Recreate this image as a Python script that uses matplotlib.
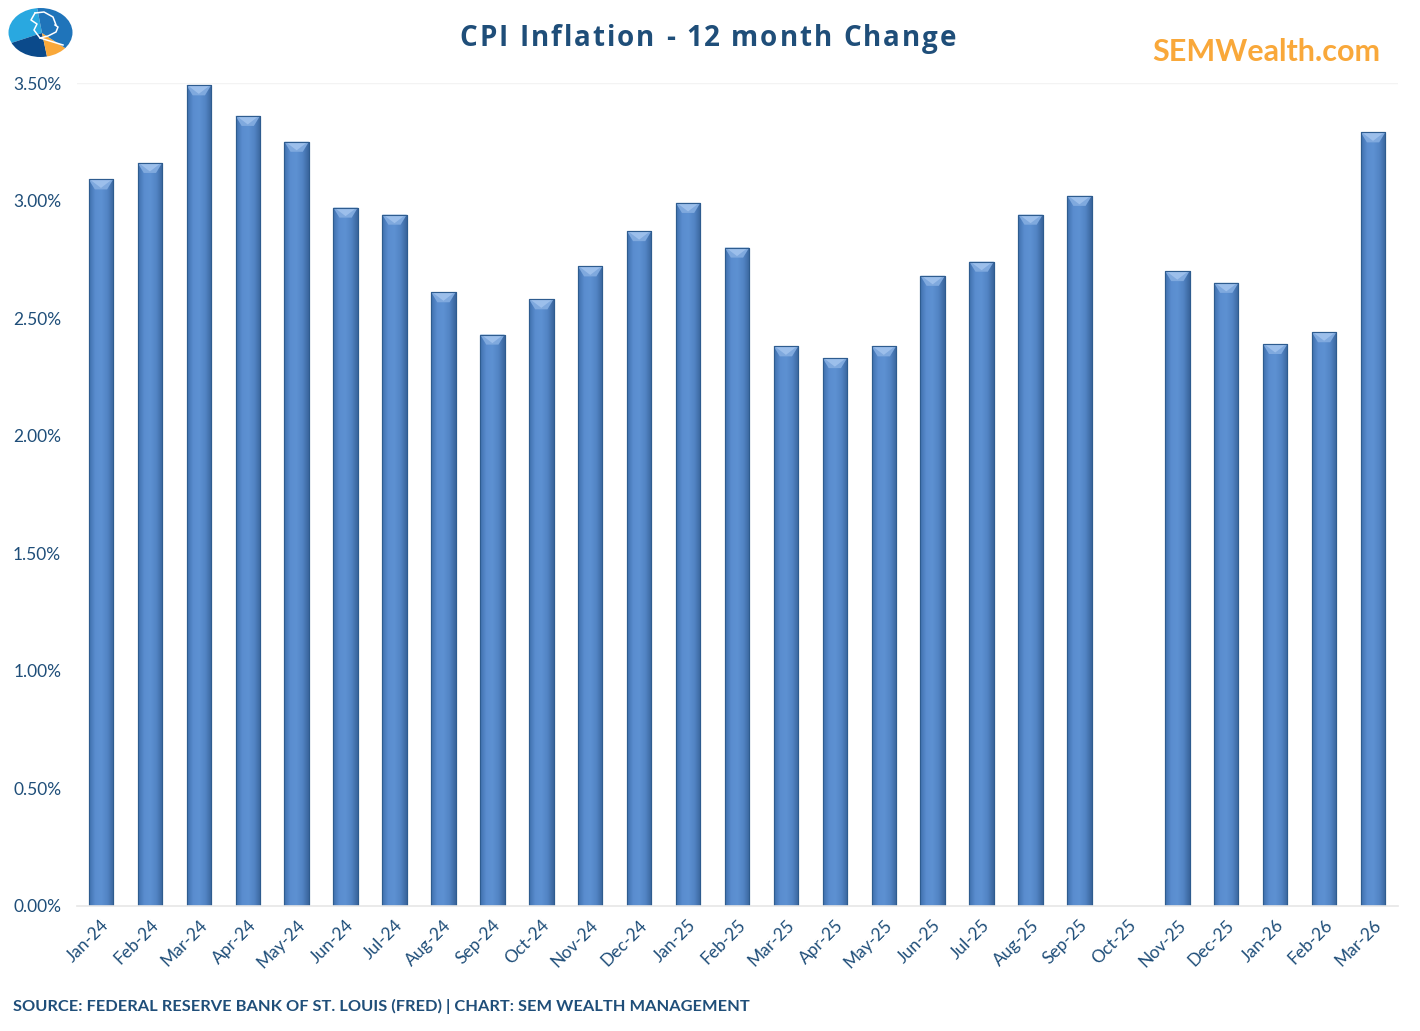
import numpy as np
import matplotlib
matplotlib.use("Agg")
import matplotlib.pyplot as plt
from matplotlib.patches import Polygon, Ellipse, Wedge
from matplotlib.colors import LinearSegmentedColormap

months = ["Jan-24", "Feb-24", "Mar-24", "Apr-24", "May-24", "Jun-24", "Jul-24", "Aug-24",
          "Sep-24", "Oct-24", "Nov-24", "Dec-24", "Jan-25", "Feb-25", "Mar-25", "Apr-25",
          "May-25", "Jun-25", "Jul-25", "Aug-25", "Sep-25", "Oct-25", "Nov-25", "Dec-25",
          "Jan-26", "Feb-26", "Mar-26"]
cpi = [3.09, 3.16, 3.49, 3.36, 3.25, 2.97, 2.94, 2.61, 2.43, 2.58, 2.72, 2.87, 2.99, 2.80,
       2.38, 2.33, 2.38, 2.68, 2.74, 2.94, 3.02, np.nan, 2.70, 2.65, 2.39, 2.44, 3.29]
yticks = [0, 0.5, 1.0, 1.5, 2.0, 2.5, 3.0, 3.5]

TXT = "#1F4E79"
FONT = ["Lato", "DejaVu Sans"]
plt.rcParams["font.family"] = FONT

fig = plt.figure(figsize=(14.2, 10.31), dpi=100)
ax = fig.add_axes([76.5 / 1420, 1 - 906 / 1031, (1397.5 - 76.5) / 1420, (906 - 83) / 1031])

x = np.arange(len(months))
vals = np.array(cpi, dtype=float)
bw = 0.5
bars = ax.bar(x, np.nan_to_num(vals), width=bw, color="#4F81BD", edgecolor="#2E5C8F",
              linewidth=0.8, zorder=2)

cmap = LinearSegmentedColormap.from_list("g", ["#3F70AD", "#5A8DCF", "#5D91D2", "#5284C4", "#3A659C"])
grad = np.linspace(0, 1, 64).reshape(1, -1)
ax.set_xlim(-0.5, len(months) - 0.5)
ax.set_ylim(0, 3.5)

fig.canvas.draw()
p0 = ax.transData.transform((0, 0))
p1 = ax.transData.transform((1, 1))
ypx = p1[1] - p0[1]
bevel = 10 / ypx
for b, v in zip(bars, vals):
    if np.isnan(v):
        b.set_visible(False)
        continue
    xl = b.get_x()
    im = ax.imshow(grad, extent=[xl, xl + bw, 0, v], aspect="auto", cmap=cmap,
                   zorder=2.1, interpolation="bilinear")
    im.set_clip_path(b)
    cap = Polygon([[xl, v], [xl + bw, v], [xl + bw * 0.75, v - bevel], [xl + bw * 0.25, v - bevel]],
                  closed=True, facecolor="#7FA9DE", edgecolor="none", zorder=2.2)
    ax.add_patch(cap)
    tri = Polygon([[xl + bw * 0.08, v - 0.003], [xl + bw * 0.92, v - 0.003], [xl + bw * 0.5, v - bevel * 0.85]],
                  closed=True, facecolor="#A2C3EE", edgecolor="none", zorder=2.3, alpha=0.85)
    ax.add_patch(tri)
    ax.add_patch(Polygon([[xl, 0], [xl, v], [xl + bw, v], [xl + bw, 0]], closed=True,
                         facecolor="none", edgecolor="#2E5C8F", linewidth=0.8, zorder=2.4))

for s in ["top", "right", "left"]:
    ax.spines[s].set_visible(False)
ax.spines["bottom"].set_color("#E6E6E6")
ax.spines["bottom"].set_linewidth(1.2)
ax.axhline(3.5, color="#F3F3F3", linewidth=1.0, zorder=1)

ax.set_yticks(yticks)
ax.set_yticklabels([f"{t:.2f}%" for t in yticks], color=TXT, fontsize=12.5)
ax.tick_params(axis="y", length=0, pad=11)
ax.set_xticks(x)
ax.set_xticklabels(months, rotation=45, ha="right", rotation_mode="anchor", color=TXT, fontsize=12.5)
ax.tick_params(axis="x", length=0, pad=8)

# letter-spaced title, drawn char by char
title = "CPI Inflation - 12 month Change"
tfam = ["Open Sans", "DejaVu Sans"]
tsize = 20
renderer = fig.canvas.get_renderer()
widths = []
for ch in title:
    if ch == " ":
        t = fig.text(0, 0, "a a", family=tfam, fontsize=tsize, fontweight="bold")
        t2 = fig.text(0, 0, "aa", family=tfam, fontsize=tsize, fontweight="bold")
        w = t.get_window_extent(renderer).width - t2.get_window_extent(renderer).width
        t.remove(); t2.remove()
    else:
        t = fig.text(0, 0, ch, family=tfam, fontsize=tsize, fontweight="bold")
        w = t.get_window_extent(renderer).width
        t.remove()
    widths.append(w)
target_w = 497.0
gap = (target_w - sum(widths)) / (len(title) - 1)
xpos = 708.0 - target_w / 2
for ch, w in zip(title, widths):
    if ch != " ":
        fig.text(xpos / 1420, 1 - 39 / 1031, ch, family=tfam, fontsize=tsize, fontweight="bold",
                 color=TXT, ha="left", va="center")
    xpos += w + gap

fig.text(1380 / 1420, 1 - 52 / 1031, "SEMWealth.com", ha="right", va="center", fontsize=22,
         fontweight="bold", color="#F9A83A")
fig.text(13 / 1420, 1 - 1006 / 1031,
         "SOURCE: FEDERAL RESERVE BANK OF ST. LOUIS (FRED) | CHART: SEM WEALTH MANAGEMENT",
         ha="left", va="center", fontsize=11.8, fontweight="bold", color=TXT)

# logo (data coords = pixel coords, y negated)
lax = fig.add_axes([8 / 1420, 1 - 60 / 1031, 68 / 1420, 54 / 1031])
lax.set_xlim(8, 76)
lax.set_ylim(-60, -6)
lax.axis("off")
clip = Ellipse((40.5, -32.5), 64, 49, transform=lax.transData)
wedges = [(101, 198, "#29A8E0"), (198, 282, "#0B4A8B"), (282, 327, "#F9A83A"), (327, 461, "#1F74BA")]
for t1, t2, c in wedges:
    w = Wedge((42, -33), 60, t1, t2, facecolor=c, edgecolor="none")
    lax.add_patch(w)
    w.set_clip_path(clip)
lax.plot([35, 31, 37, 34, 40, 48, 56, 58, 55],
         [-13, -20, -24, -30, -38, -36, -32, -27, -25],
         color="white", linewidth=1.1)
lax.plot([35, 44, 53, 56], [-13, -12, -17, -25], color="white", linewidth=1.1)
lax.plot([40, 63], [-38, -45], color="white", linewidth=1.1)

fig.savefig("out.png", dpi=100, facecolor="white")
